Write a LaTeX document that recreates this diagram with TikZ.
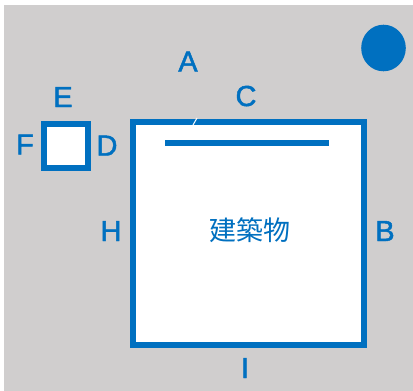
\documentclass[tikz,border=0pt]{standalone}
\usepackage{fontspec}
\setmainfont{Liberation Sans}
\newfontfamily\labfont[RawFeature={embolden=1.6}]{Liberation Sans}
\newfontfamily\cjk{Noto Sans CJK JP}
\definecolor{bluec}{HTML}{0070C0}
\definecolor{greyc}{HTML}{D0CECE}
\tikzset{
  lab/.style={text=bluec,font=\labfont\fontsize{29}{29}\selectfont,inner sep=0pt,anchor=base},
  wall/.style={draw=bluec,line width=6pt,fill=white,line join=miter},
}
\begin{document}
\begin{tikzpicture}[x=1pt,y=-1pt]
\useasboundingbox (0,0) rectangle (413,391);
\fill[greyc] (4,5) rectangle (413,391);
\draw[wall] (132.5,122) rectangle (364,345);
\draw[wall] (44,123.5) rectangle (87.5,168);
\draw[draw=bluec,line width=6pt] (165,143) coordinate (ls) -- (328.5,143) coordinate (le);
\draw[white,line width=1pt] (193,125) coordinate (ta) -- (197,118) coordinate (tb);
\fill[bluec] (383.5,48) ellipse [x radius=22.3,y radius=23.3];
\node[lab] (A) at (188,71.5) {A};
\node[lab] (C) at (246,106) {C};
\node[lab] (E) at (63,107) {E};
\node[lab] (F) at (25,154.5) {F};
\node[lab] (D) at (107,155.5) {D};
\node[lab] (H) at (111,241) {H};
\node[lab] (B) at (385,241) {B};
\node[lab] (I) at (245,378) {I};
\node[text=bluec,font=\cjk\fontsize{27}{27}\selectfont,inner sep=0pt] (bldg) at (249.5,230) {建築物};
\end{tikzpicture}
\end{document}
